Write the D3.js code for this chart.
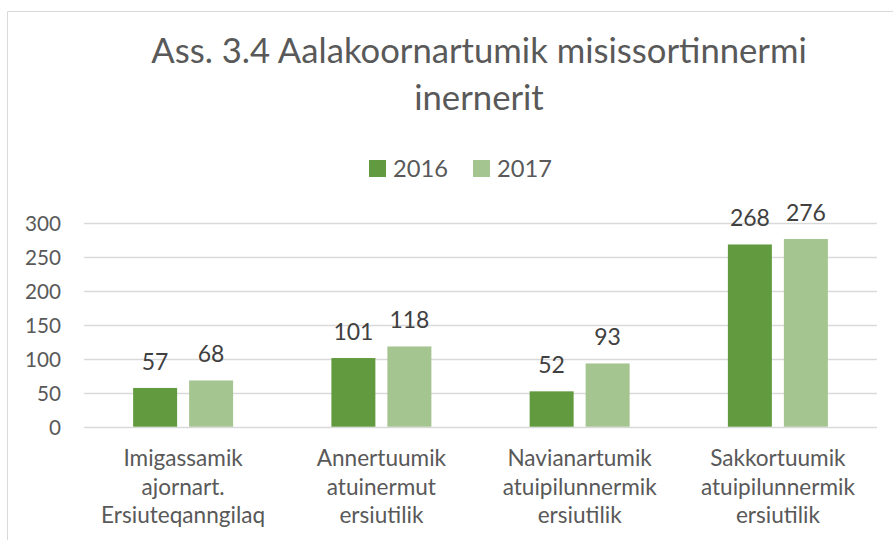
<!DOCTYPE html>
<html>
<head>
<meta charset="utf-8">
<script src="https://cdn.jsdelivr.net/npm/d3@7"></script>
<style>
  html, body { margin: 0; padding: 0; background: #ffffff; }
  svg { display: block; }
</style>
</head>
<body>
<svg id="chart" width="893" height="540"></svg>
<script>
// ---- data ----
const titleLines = ["Ass. 3.4 Aalakoornartumik misissortinnermi", "inernerit"];
const categories = [
  ["Imigassamik", "ajornart.", "Ersiuteqanngilaq"],
  ["Annertuumik", "atuinermut", "ersiutilik"],
  ["Navianartumik", "atuipilunnermik", "ersiutilik"],
  ["Sakkortuumik", "atuipilunnermik", "ersiutilik"]
];
const seriesNames = ["2016", "2017"];
const values2016 = [57, 101, 52, 268];
const values2017 = [68, 118, 93, 276];
const yTicks = [0, 50, 100, 150, 200, 250, 300];
const seriesColors = ["#629B3F", "#A4C490"];

// ---- setup ----
const FONT = "Lato, 'Open Sans', sans-serif";
const svg = d3.select("#chart");
const W = 893, H = 540;
const plot = { left: 84, right: 877, top: 222.7, bottom: 426.7 };

// measure helper: font size so that text hits target width
const meas = svg.append("text").attr("font-family", FONT).attr("font-size", 100).attr("x", -1000).attr("y", -1000);
function fitSize(str, target) {
  meas.text(str);
  const w = meas.node().getComputedTextLength();
  return 100 * target / w;
}
const titleSize = fitSize(titleLines[0], 656);
const catSize = fitSize("atuipilunnermik", 154);
const tickSize = fitSize("300", 36);
const valSize = fitSize("276", 40);
const legSize = fitSize("2016", 55);
meas.remove();

// frame
svg.append("path")
  .attr("d", `M7.5,${H} L7.5,11.5 L${W},11.5`)
  .attr("fill", "none").attr("stroke", "#d9d9d9").attr("stroke-width", 1);

// scales
const y = d3.scaleLinear().domain([0, 300]).range([plot.bottom, plot.top]);
const catKeys = categories.map((c, i) => i);
const x0 = d3.scaleBand().domain(catKeys).range([plot.left, plot.right])
  .paddingInner(0.4956).paddingOuter(0.2478);
const x1 = d3.scaleBand().domain(seriesNames).range([0, x0.bandwidth()])
  .paddingInner(12 / 56).paddingOuter(0);

// gridlines
svg.append("g").selectAll("line").data(yTicks).join("line")
  .attr("x1", plot.left).attr("x2", plot.right)
  .attr("y1", d => Math.round(y(d)) + 0.5).attr("y2", d => Math.round(y(d)) + 0.5)
  .attr("stroke", "#d9d9d9").attr("stroke-width", 1.3);

// y axis labels
const yAxis = d3.axisLeft(y).tickValues(yTicks).tickSize(0).tickPadding(0);
const yg = svg.append("g").attr("transform", `translate(61,0)`).call(yAxis);
yg.select(".domain").remove();
yg.selectAll("text").attr("font-family", FONT).attr("font-size", tickSize)
  .attr("fill", "#595959").attr("x", 0).attr("dy", "0.36em");

// bars
const seriesData = [values2016, values2017];
const groups = svg.append("g").selectAll("g").data(catKeys).join("g")
  .attr("transform", d => `translate(${x0(d)},0)`);
groups.selectAll("rect")
  .data(i => seriesNames.map((s, j) => ({ s, j, v: seriesData[j][i] })))
  .join("rect")
  .attr("x", d => x1(d.s))
  .attr("width", x1.bandwidth())
  .attr("y", d => y(d.v))
  .attr("height", d => y(0) - y(d.v))
  .attr("fill", d => seriesColors[d.j]);
groups.selectAll("text.val")
  .data(i => seriesNames.map((s, j) => ({ s, j, v: seriesData[j][i] })))
  .join("text").attr("class", "val")
  .attr("x", d => x1(d.s) + x1.bandwidth() / 2)
  .attr("y", d => y(d.v) - 18)
  .attr("text-anchor", "middle")
  .attr("font-family", FONT).attr("font-size", valSize)
  .attr("fill", "#404040")
  .text(d => d.v);

// category labels
const lineBase = [466, 494.5, 522.5];
const cg = svg.append("g").selectAll("text").data(catKeys).join("text")
  .attr("text-anchor", "middle")
  .attr("font-family", FONT).attr("font-size", catSize).attr("fill", "#595959");
cg.selectAll("tspan").data(i => categories[i].map((t, k) => ({ t, k, i }))).join("tspan")
  .attr("x", d => x0(d.i) + x0.bandwidth() / 2)
  .attr("y", d => lineBase[d.k])
  .text(d => d.t);

// title
svg.append("g").selectAll("text").data(titleLines).join("text")
  .attr("x", 479)
  .attr("y", (d, i) => [63, 109.5][i])
  .attr("text-anchor", "middle")
  .attr("font-family", FONT).attr("font-size", titleSize).attr("fill", "#595959")
  .text(d => d);

// legend
const legX = [369, 473];
const lg = svg.append("g").selectAll("g").data(seriesNames).join("g");
lg.append("rect")
  .attr("x", (d, i) => legX[i]).attr("y", 160)
  .attr("width", 17).attr("height", 17)
  .attr("fill", (d, i) => seriesColors[i]);
lg.append("text")
  .attr("x", (d, i) => legX[i] + 24).attr("y", 177)
  .attr("font-family", FONT).attr("font-size", legSize).attr("fill", "#595959")
  .text(d => d);
</script>
</body>
</html>
